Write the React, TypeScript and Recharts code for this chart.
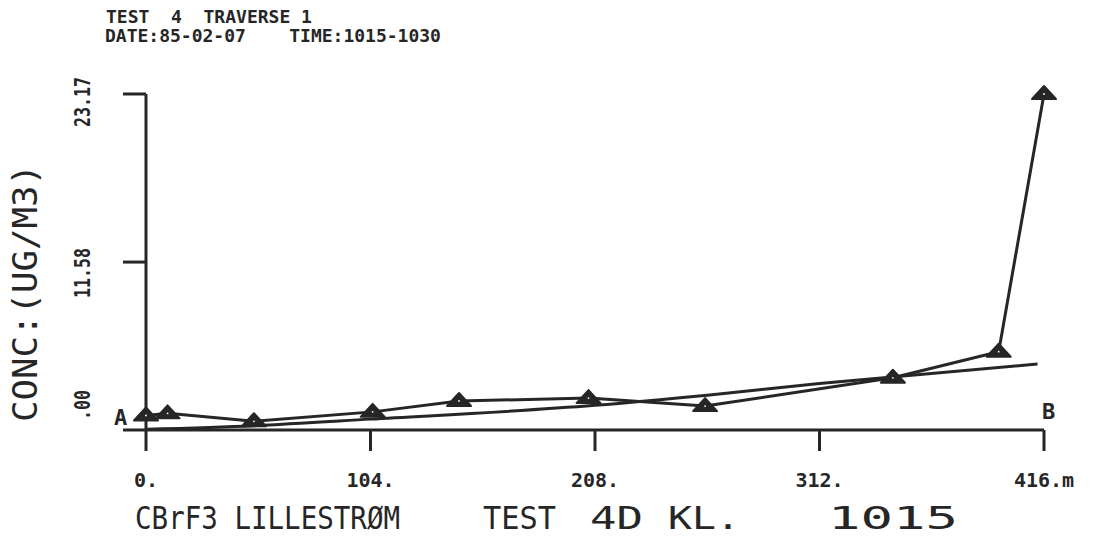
import React from "react";
import { Line, LineChart, XAxis, YAxis } from "recharts";

// traverse distance (m) and measured concentration (ug/m3)
const distance = [0, 10, 50, 105, 145, 205, 259, 346, 395, 416];
const conc = [1.0, 1.15, 0.6, 1.25, 2.0, 2.2, 1.65, 3.6, 5.4, 23.17];

// fitted curve
const fitDistance = [0, 50, 104, 208, 260, 312, 413];
const fitConc = [0.05, 0.3, 0.75, 1.7, 2.4, 3.2, 4.55];

const xTicks = [0, 104, 208, 312, 416];
const xTickLabels = ["0.", "104.", "208.", "312.", "416.m"];
const yTicks = [0, 11.58, 23.17];
const yTickLabels = [".00", "11.58", "23.17"];

const measured = distance.map((x, i) => ({ x, c: conc[i] }));
const fitted = fitDistance.map((x, i) => ({ x, c: fitConc[i] }));

const INK = "#262626";
const FONT = "'DejaVu Sans Mono', monospace";

function Triangle(props: any) {
  const { cx, cy } = props;
  if (cx == null || cy == null) return null;
  return (
    <g>
      <polygon
        points={`${cx - 12},${cy + 5} ${cx},${cy - 8} ${cx + 12},${cy + 5}`}
        style={{ fill: INK, stroke: INK, strokeWidth: 2, strokeLinejoin: "round" }}
      />
      <circle cx={cx} cy={cy} r={0.9} style={{ fill: "#ffffff" }} />
    </g>
  );
}

function XTick(props: any) {
  const { x, payload } = props;
  const i = xTicks.indexOf(payload.value);
  return (
    <text x={x} y={487} textAnchor="middle" fill={INK} fontFamily={FONT} fontWeight="bold" fontSize={20}>
      {xTickLabels[i]}
    </text>
  );
}

// the plotter did not centre its y labels on the ticks
const yLabelShift = [-25, 11, 8];

function YTick(props: any) {
  const { y, payload } = props;
  const i = yTicks.indexOf(payload.value);
  const cy = y + yLabelShift[i];
  const label = yTickLabels[i];
  return (
    <text
      transform={`translate(90,${cy}) rotate(-90)`}
      textAnchor="middle"
      fill={INK}
      fontFamily={FONT}
      fontWeight="bold"
      fontSize={22}
      textLength={label.length * 10}
      lengthAdjust="spacingAndGlyphs"
    >
      {label}
    </text>
  );
}

export default function App() {
  return (
    <div style={{ position: "absolute", left: 0, top: 0, width: 1093, height: 547, background: "#fff" }}>
      <LineChart width={1093} height={547} margin={{ top: 94, right: 49, bottom: 67, left: 86 }}>
        <XAxis
          type="number"
          dataKey="x"
          domain={[0, 416]}
          ticks={xTicks}
          height={50}
          tickSize={21}
          axisLine={{ stroke: INK, strokeWidth: 3 }}
          tickLine={{ stroke: INK, strokeWidth: 3 }}
          tick={<XTick />}
        />
        <YAxis
          type="number"
          dataKey="c"
          domain={[0, 23.17]}
          ticks={yTicks}
          width={60}
          tickSize={23}
          axisLine={{ stroke: INK, strokeWidth: 3 }}
          tickLine={{ stroke: INK, strokeWidth: 3 }}
          tick={<YTick />}
        />
        <Line
          data={fitted}
          dataKey="c"
          type="monotone"
          stroke={INK}
          strokeWidth={3}
          dot={false}
          isAnimationActive={false}
        />
        <Line
          data={measured}
          dataKey="c"
          type="linear"
          stroke={INK}
          strokeWidth={3}
          dot={(p: any) => <Triangle key={p.index} cx={p.cx} cy={p.cy} />}
          isAnimationActive={false}
        />
      </LineChart>
      <svg width={1093} height={547} style={{ position: "absolute", left: 0, top: 0, pointerEvents: "none" }}>
        <g fill={INK} fontFamily={FONT} fontWeight="bold" fontSize={18}>
          <text x={106} y={23} xmlSpace="preserve">{"TEST  4  TRAVERSE 1"}</text>
          <text x={105} y={42} xmlSpace="preserve">{"DATE:85-02-07    TIME:1015-1030"}</text>
        </g>
        <g fill={INK} fontFamily={FONT} fontWeight="bold" fontSize={22}>
          <text x={114} y={425}>A</text>
          <text x={1042} y={419}>B</text>
        </g>
        <text
          transform="translate(37,293) rotate(-90)"
          textAnchor="middle"
          fill={INK}
          fontFamily={FONT}
          fontSize={34}
          textLength={258}
          lengthAdjust="spacingAndGlyphs"
        >
          CONC:(UG/M3)
        </text>
        <g fill={INK} fontFamily={FONT} fontSize={32}>
          <text x={135} y={529} textLength={265} lengthAdjust="spacingAndGlyphs">CBrF3 LILLESTRØM</text>
          <text x={483} y={529} textLength={73} lengthAdjust="spacingAndGlyphs">TEST</text>
          <text x={590} y={529} textLength={53} lengthAdjust="spacingAndGlyphs">4D</text>
          <text x={668} y={529} textLength={72} lengthAdjust="spacingAndGlyphs">KL.</text>
          <text x={828} y={529} textLength={130} lengthAdjust="spacingAndGlyphs">1015</text>
        </g>
      </svg>
    </div>
  );
}
